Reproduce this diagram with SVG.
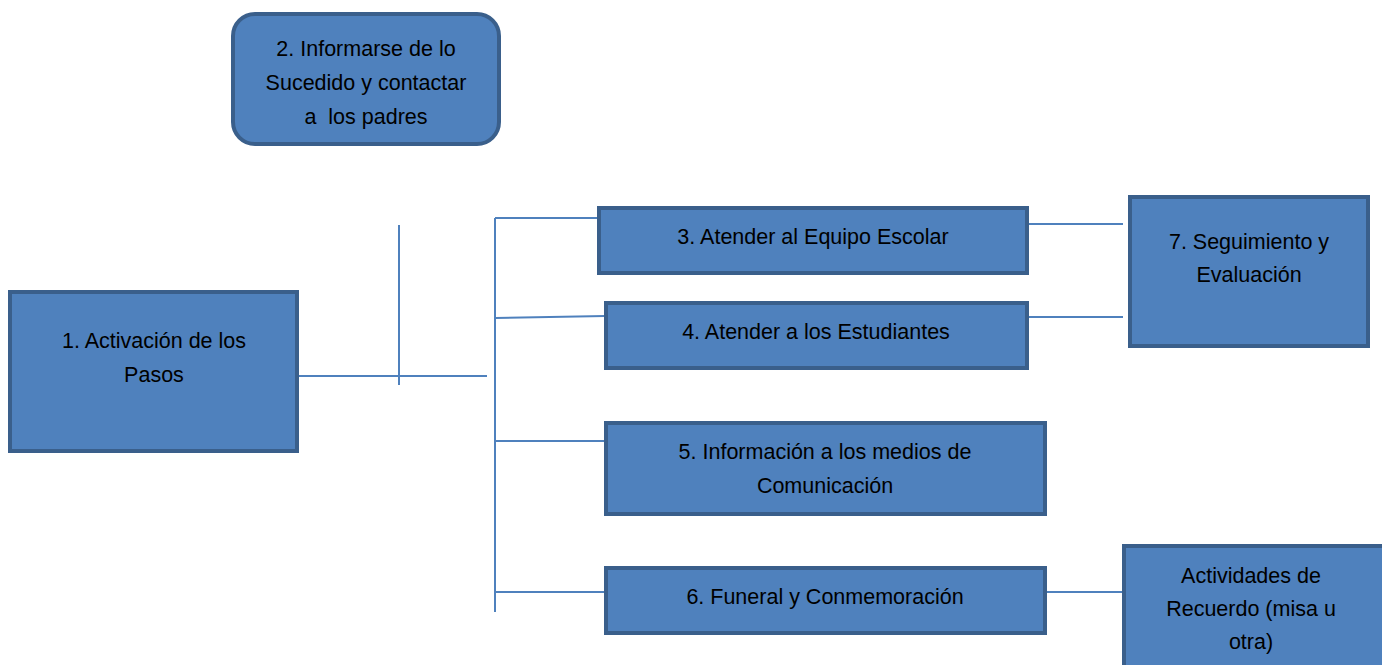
<svg xmlns="http://www.w3.org/2000/svg" width="1382" height="665" viewBox="0 0 1382 665">
<style>
.box{fill:#4F81BD;stroke:#3A5F8B;stroke-width:4}
.t{font-family:"Liberation Sans",Arial,sans-serif;font-size:21.5px;fill:#000;text-anchor:middle}
.c{stroke:#4F81BD;stroke-width:2;fill:none}
</style>
<rect width="1382" height="665" fill="#fff"/>
<g id="connectors">
<line class="c" x1="298" y1="376" x2="487" y2="376"/>
<line class="c" x1="399" y1="225" x2="399" y2="385"/>
<line class="c" x1="495" y1="218" x2="495" y2="612"/>
<line class="c" x1="495" y1="218" x2="598" y2="218"/>
<line class="c" x1="495" y1="318" x2="605" y2="316"/>
<line class="c" x1="495" y1="441" x2="605" y2="441"/>
<line class="c" x1="495" y1="592" x2="605" y2="592"/>
<line class="c" x1="1028" y1="224" x2="1123" y2="224"/>
<line class="c" x1="1028" y1="317" x2="1123" y2="317"/>
<line class="c" x1="1045" y1="592" x2="1123" y2="592"/>
</g>
<g id="n2"><rect class="box" x="233" y="14" width="266" height="130" rx="22"/>
<text class="t" x="366" y="56">2. Informarse de lo</text>
<text class="t" x="366" y="90">Sucedido y contactar</text>
<text class="t" x="366" y="124" xml:space="preserve">a  los padres</text></g>
<g id="n1"><rect class="box" x="10" y="292" width="287" height="159"/>
<text class="t" x="154" y="348">1. Activación de los</text>
<text class="t" x="154" y="382">Pasos</text></g>
<g id="n3"><rect class="box" x="599" y="208" width="428" height="65"/>
<text class="t" x="813" y="244">3. Atender al Equipo Escolar</text></g>
<g id="n4"><rect class="box" x="606" y="303" width="421" height="65"/>
<text class="t" x="816" y="339">4. Atender a los Estudiantes</text></g>
<g id="n5"><rect class="box" x="606" y="423" width="439" height="91"/>
<text class="t" x="825" y="459">5. Información a los medios de</text>
<text class="t" x="825" y="493">Comunicación</text></g>
<g id="n6"><rect class="box" x="606" y="568" width="439" height="65"/>
<text class="t" x="825" y="604">6. Funeral y Conmemoración</text></g>
<g id="n7"><rect class="box" x="1130" y="197" width="238" height="149"/>
<text class="t" x="1249" y="249">7. Seguimiento y</text>
<text class="t" x="1249" y="282">Evaluación</text></g>
<g id="n8"><rect class="box" x="1124" y="546" width="262" height="125"/>
<text class="t" x="1251" y="583">Actividades de</text>
<text class="t" x="1251" y="616">Recuerdo (misa u</text>
<text class="t" x="1251" y="649">otra)</text></g>
</svg>
